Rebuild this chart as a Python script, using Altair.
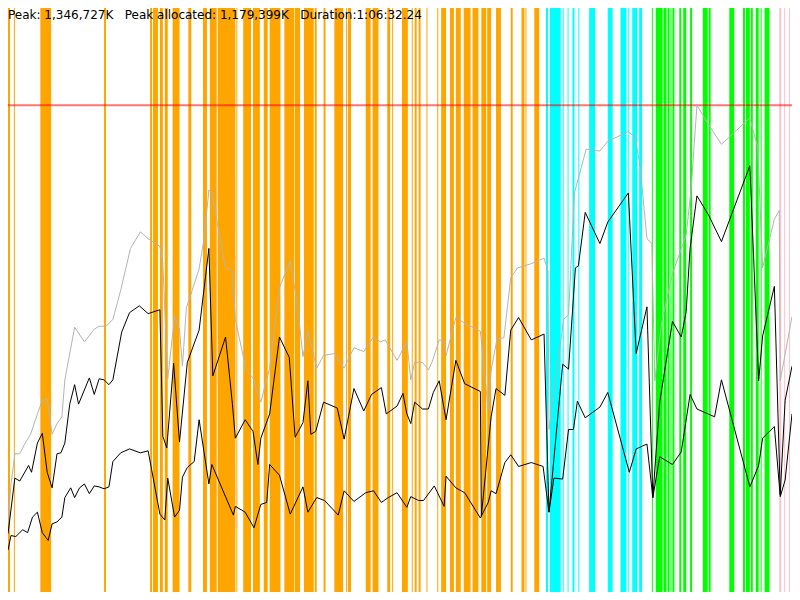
import altair as alt
import pandas as pd

PEAK_K = 1346727
PEAK_ALLOC_K = 1179399
DURATION = "1:06:32.24"
END_S = 4000

W, H = 784, 584

# committed heap (grey line): time in s, memory as % of peak
total_t = [0, 15, 35, 60, 85, 115, 150, 175, 200, 225,
           250, 275, 290, 340, 390, 440, 465, 500, 535, 575,
           625, 675, 715, 775, 790, 815, 850, 875, 890, 910,
           940, 975, 1000, 1025, 1040, 1110, 1145, 1160, 1215, 1250,
           1290, 1335, 1385, 1440, 1475, 1505, 1530, 1575, 1610, 1665,
           1715, 1765, 1815, 1865, 1900, 1925, 1985, 2035, 2055, 2075,
           2115, 2145, 2165, 2200, 2225, 2235, 2285, 2340, 2410, 2450,
           2465, 2495, 2530, 2565, 2600, 2665, 2735, 2755, 2760, 2835,
           2860, 2890, 2950, 3020, 3060, 3165, 3200, 3225, 3260, 3285,
           3300, 3335, 3390, 3460, 3485, 3515, 3565, 3640, 3785, 3825,
           3850, 3910, 3935, 3940, 4000]
total_pct = [14.4, 22.0, 28.4, 28.4, 30.4, 32.4, 36.6, 39.4, 39.6, 32.4,
             34.6, 36.0, 43.6, 54.4, 51.4, 54.0, 54.6, 54.6, 56.0, 62.0,
             70.6, 74.0, 72.6, 71.0, 67.6, 43.8, 56.6, 54.0, 46.4, 58.4,
             62.0, 66.4, 72.6, 82.6, 82.0, 66.6, 66.0, 56.0, 45.6, 44.0,
             39.0, 46.0, 62.6, 68.0, 59.4, 48.4, 53.6, 46.0, 48.6, 49.0,
             46.0, 50.2, 49.4, 52.4, 51.4, 51.8, 47.6, 51.4, 43.6, 47.2,
             47.2, 45.6, 47.4, 51.8, 51.6, 48.6, 56.4, 55.0, 53.6, 37.4,
             45.6, 52.0, 52.2, 64.6, 66.6, 67.4, 68.6, 66.0, 33.4, 56.0,
             57.0, 82.0, 91.0, 90.6, 92.6, 94.6, 93.4, 87.4, 72.6, 71.6,
             43.4, 55.4, 65.4, 73.4, 82.6, 100.0, 96.6, 92.0, 97.4, 91.4,
             66.6, 76.6, 78.4, 43.4, 56.6]

# allocated (upper black line)
alloc_t = [0, 35, 60, 105, 120, 150, 175, 200, 225, 250,
           270, 290, 315, 340, 360, 415, 440, 465, 490, 515,
           535, 580, 620, 670, 715, 775, 790, 810, 845, 875,
           915, 975, 1025, 1045, 1110, 1145, 1160, 1210, 1250, 1275,
           1290, 1335, 1385, 1435, 1465, 1505, 1530, 1545, 1570, 1610,
           1680, 1715, 1765, 1815, 1855, 1905, 1930, 1985, 2015, 2035,
           2055, 2075, 2115, 2145, 2170, 2200, 2235, 2285, 2330, 2410,
           2415, 2465, 2490, 2535, 2565, 2605, 2670, 2735, 2760, 2830,
           2860, 2895, 2910, 2945, 3020, 3060, 3165, 3205, 3260, 3290,
           3325, 3390, 3435, 3460, 3480, 3515, 3575, 3640, 3785, 3830,
           3850, 3910, 3940, 3965, 4000]
alloc_pct = [12.0, 23.4, 22.8, 26.0, 24.6, 30.6, 32.6, 24.6, 21.4, 28.4,
             28.6, 30.6, 38.6, 42.6, 38.6, 44.0, 40.6, 43.8, 43.6, 42.6,
             43.6, 53.4, 57.4, 58.8, 57.2, 58.0, 32.0, 29.6, 47.0, 30.8,
             47.2, 53.8, 70.6, 44.4, 52.4, 38.6, 31.6, 35.4, 33.0, 26.2,
             31.6, 36.6, 52.4, 48.2, 31.8, 34.8, 43.4, 32.4, 33.0, 39.0,
             37.8, 31.4, 41.8, 37.2, 40.6, 42.0, 36.6, 38.2, 40.8, 36.6,
             34.6, 39.0, 37.6, 37.6, 41.0, 43.4, 35.4, 47.6, 42.8, 41.2,
             15.6, 36.0, 41.8, 40.4, 53.8, 56.4, 51.8, 53.0, 16.4, 46.8,
             45.8, 66.6, 67.0, 78.0, 71.6, 76.0, 82.0, 49.0, 58.6, 19.4,
             39.0, 55.6, 52.4, 57.6, 70.6, 81.4, 77.4, 72.0, 87.6, 43.4,
             52.6, 62.8, 20.0, 39.4, 46.4]

# live after collection (lower black line)
live_t = [0, 15, 40, 75, 100, 125, 150, 175, 205, 225,
          250, 275, 290, 320, 340, 365, 390, 415, 440, 465,
          490, 515, 535, 575, 620, 675, 715, 775, 800, 815,
          850, 875, 890, 915, 950, 975, 1025, 1040, 1150, 1160,
          1210, 1255, 1290, 1320, 1335, 1385, 1440, 1505, 1530, 1575,
          1615, 1685, 1715, 1765, 1825, 1865, 1905, 1940, 1985, 2035,
          2055, 2095, 2120, 2175, 2225, 2235, 2285, 2330, 2410, 2450,
          2465, 2490, 2535, 2565, 2605, 2670, 2730, 2760, 2785, 2830,
          2860, 2885, 2905, 2945, 3020, 3060, 3170, 3205, 3260, 3290,
          3325, 3390, 3435, 3480, 3515, 3605, 3640, 3785, 3830, 3850,
          3910, 3940, 3965, 4000]
live_pct = [8.6, 11.6, 11.4, 12.8, 12.2, 15.4, 16.4, 12.2, 10.6, 14.0,
            14.4, 15.4, 19.4, 21.4, 19.4, 21.4, 22.2, 20.2, 21.8, 21.6,
            21.2, 21.6, 26.8, 28.6, 29.4, 28.6, 29.0, 16.0, 14.8, 23.4,
            15.4, 16.8, 23.6, 25.6, 26.8, 35.4, 22.2, 26.2, 15.8, 17.6,
            16.4, 13.2, 18.0, 18.4, 26.2, 24.0, 16.0, 21.6, 16.4, 19.4,
            18.8, 15.8, 20.8, 18.6, 20.4, 20.8, 18.4, 19.4, 20.4, 17.4,
            19.6, 18.8, 18.8, 21.8, 17.6, 23.8, 21.4, 20.4, 15.2, 18.4,
            20.8, 20.2, 26.6, 28.2, 25.8, 26.6, 25.8, 16.4, 23.4, 23.2,
            33.4, 33.4, 39.2, 35.8, 38.0, 41.0, 24.6, 29.4, 30.4, 19.4,
            27.8, 26.2, 28.8, 40.6, 37.6, 36.0, 43.6, 21.6, 26.0, 31.6,
            34.0, 19.6, 23.0, 36.6]

# event bands (start s, end s)
orange_bands = [(0, 10), (30, 35), (165, 220), (490, 500),
                (725, 735), (740, 765), (775, 790), (800, 815), (840, 875),
                (920, 935), (995, 1015), (1030, 1065), (1070, 1160), (1165, 1170),
                (1200, 1240), (1250, 1285), (1305, 1325), (1335, 1390), (1410, 1460),
                (1463, 1490), (1510, 1560), (1565, 1575), (1610, 1620), (1665, 1710),
                (1725, 1730), (1735, 1750), (1825, 1850), (1860, 1890), (1935, 1950),
                (1960, 1965), (2010, 2040), (2060, 2065), (2075, 2085), (2095, 2105),
                (2135, 2140), (2190, 2195), (2210, 2235), (2255, 2275), (2285, 2310),
                (2325, 2360), (2370, 2400), (2415, 2440), (2445, 2465), (2490, 2515),
                (2565, 2575), (2620, 2635), (2640, 2645), (2685, 2710)]
cyan_bands = [(2745, 2755), (2765, 2820), (2830, 2835), (2855, 2860), (2880, 2890),
              (2910, 2915), (2965, 2995), (3060, 3085), (3125, 3155), (3165, 3170),
              (3185, 3210), (3220, 3235)]
green_bands = [(3285, 3290), (3305, 3340), (3345, 3360), (3365, 3375), (3380, 3385),
               (3390, 3400), (3425, 3435), (3445, 3460), (3480, 3490), (3545, 3570),
               (3575, 3585), (3680, 3705), (3750, 3760), (3765, 3785), (3790, 3800),
               (3815, 3830), (3840, 3845), (3860, 3885)]
pink_bands = [(3935, 3945), (3960, 3965), (3985, 3990)]

band_colors = {"orange": "#ffa500", "cyan": "#00ffff", "green": "#00ff00", "pink": "#ffc0cb"}

rows = []
for kind, bands in [("orange", orange_bands), ("cyan", cyan_bands),
                    ("green", green_bands), ("pink", pink_bands)]:
    for s, e in bands:
        rows.append({"start": s, "end": e, "kind": kind})
df_bands = pd.DataFrame(rows)

parts = []
for name, ts, ps in [("total", total_t, total_pct), ("allocated", alloc_t, alloc_pct),
                     ("live", live_t, live_pct)]:
    assert len(ts) == len(ps), name
    parts.append(pd.DataFrame({"t": ts, "mem": [p * PEAK_K / 100 for p in ps], "series": name}))
df_lines = pd.concat(parts, ignore_index=True)

x_scale = alt.Scale(domain=[0, END_S], nice=False, zero=False)
y_scale = alt.Scale(domain=[0, PEAK_K * 1.2], nice=False)

bands = (
    alt.Chart(df_bands)
    .mark_rect()
    .encode(
        x=alt.X("start:Q", scale=x_scale, axis=None),
        x2="end:Q",
        y=alt.value(0),
        y2=alt.value(H),
        color=alt.Color("kind:N", legend=None,
                        scale=alt.Scale(domain=list(band_colors), range=list(band_colors.values()))),
    )
)

peak_rule = (
    alt.Chart(pd.DataFrame({"peak": [PEAK_K]}))
    .mark_rule(color="red", opacity=0.55, strokeWidth=2)
    .encode(y=alt.Y("peak:Q", scale=y_scale, axis=None))
)

lines = (
    alt.Chart(df_lines)
    .mark_line(strokeWidth=1)
    .encode(
        x=alt.X("t:Q", scale=x_scale, axis=None),
        y=alt.Y("mem:Q", scale=y_scale, axis=None),
        color=alt.Color("series:N", legend=None,
                        scale=alt.Scale(domain=["total", "allocated", "live"],
                                        range=["#b4b4b4", "#000000", "#000000"])),
        detail="series:N",
    )
)

sp = "\u00a0\u00a0\u00a0"
label = f"Peak: {PEAK_K:,}K{sp}Peak allocated: {PEAK_ALLOC_K:,}K{sp}Duration:{DURATION}"
header = (
    alt.Chart(pd.DataFrame({"label": [label]}))
    .mark_text(align="left", baseline="alphabetic", font="DejaVu Sans", fontSize=12, color="black")
    .encode(x=alt.value(0), y=alt.value(11), text="label:N")
)

chart = (
    alt.layer(bands, peak_rule, lines, header)
    .resolve_scale(color="independent")
    .properties(width=W, height=H, autosize=alt.AutoSizeParams(type="none"), padding=0)
    .configure_view(stroke=None)
)

chart.save("out.html", embed_options={"renderer": "svg", "actions": False})
